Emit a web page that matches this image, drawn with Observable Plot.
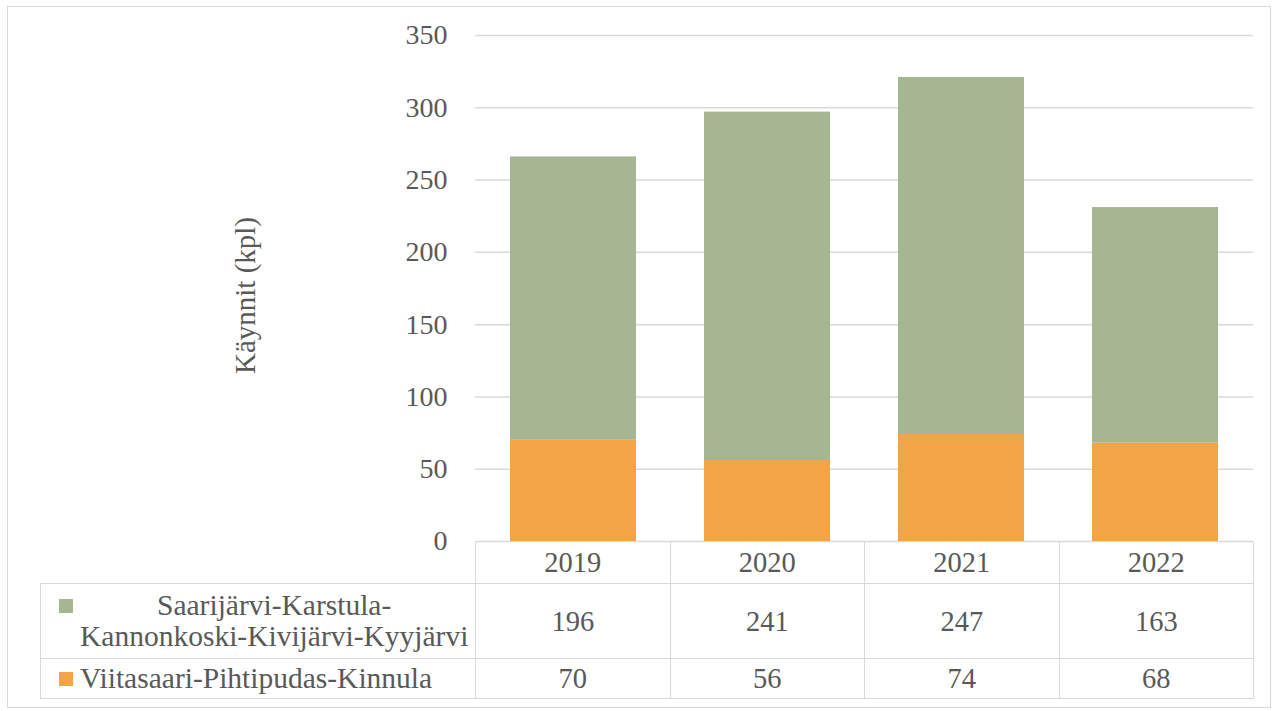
<!DOCTYPE html>
<html><head><meta charset="utf-8">
<script src="https://cdn.jsdelivr.net/npm/d3@7"></script>
<script src="https://cdn.jsdelivr.net/npm/@observablehq/plot@0.6"></script>
<style>
body{margin:0;background:#fff;font-family:"Liberation Serif","Times New Roman",serif;}
#frame{position:absolute;left:7px;top:6px;width:1264px;height:702px;border:1.5px solid #d9d9d9;box-sizing:border-box}
#chart{position:absolute;left:0;top:0}
#tbl{position:absolute;left:40px;top:541px;border-collapse:collapse;table-layout:fixed;font-size:28.5px;color:#595959;line-height:31px}
#tbl td{border:1.5px solid #d9d9d9;text-align:center;padding:0}
#tbl td.blank{border-top:none;border-left:none}
.lg{display:flex;align-items:flex-start;padding-left:18px;text-align:left}
.sq{width:14px;height:14px;flex:none;margin-right:7px}
.lt{flex:none;text-align:center;white-space:nowrap;font-size:29.5px}
</style>
</head><body>
<div id="frame"></div>
<div id="chart"></div>
<script>
const years = ["2019", "2020", "2021", "2022"];
const seriesNames = ["Saarijärvi-Karstula-Kannonkoski-Kivijärvi-Kyyjärvi", "Viitasaari-Pihtipudas-Kinnula"];
const seriesLines = [["Saarijärvi-Karstula-", "Kannonkoski-Kivijärvi-Kyyjärvi"], ["Viitasaari-Pihtipudas-Kinnula"]];
const saarijarvi = [196, 241, 247, 163];
const viitasaari = [70, 56, 74, 68];
const colors = ["#a6b592", "#f2a446"];
const yTicks = [0, 50, 100, 150, 200, 250, 300, 350];
const yLabel = "Käynnit (kpl)";

const data = [];
years.forEach((yr, i) => {
  data.push({year: yr, series: seriesNames[1], value: viitasaari[i], ord: 0});
  data.push({year: yr, series: seriesNames[0], value: saarijarvi[i], ord: 1});
});

const chart = Plot.plot({
  width: 1281,
  height: 570,
  marginLeft: 475,
  marginRight: 28,
  marginTop: 35,
  marginBottom: 29,
  style: {fontFamily: '"Liberation Serif","Times New Roman",serif', fontSize: "28px", color: "#595959", background: "transparent"},
  x: {domain: years, paddingInner: 0.35, paddingOuter: 0.175, axis: null},
  y: {domain: [0, 350], ticks: yTicks, tickSize: 0, tickPadding: 28, label: null},
  color: {domain: seriesNames, range: colors},
  marks: [
    Plot.gridY(yTicks, {stroke: "#d9d9d9", strokeOpacity: 1, strokeWidth: 1.5}),
    Plot.axisY(yTicks, {tickSize: 0, tickPadding: 28, fontSize: 28, fill: "#595959", label: null}),
    Plot.barY(data, Plot.stackY({x: "year", y: "value", fill: "series", order: "ord"})),
    Plot.text([yLabel], {frameAnchor: "left", textAnchor: "middle", dx: -230, dy: 7, rotate: -90, fontSize: 29, fill: "#595959"})
  ]
});
document.getElementById("chart").appendChild(chart);

// data table
const tbl = document.createElement("table");
tbl.id = "tbl";
const cg = document.createElement("colgroup");
[435, 194.5, 194.5, 194.5, 194.5].forEach(w => { const c = document.createElement("col"); c.style.width = w + "px"; cg.appendChild(c); });
tbl.appendChild(cg);
const hr = document.createElement("tr"); hr.style.height = "42px";
const b = document.createElement("td"); b.className = "blank"; hr.appendChild(b);
years.forEach(y => { const td = document.createElement("td"); td.textContent = y; hr.appendChild(td); });
tbl.appendChild(hr);
function row(lines, color, vals, h, sqTop) {
  const tr = document.createElement("tr"); tr.style.height = h + "px";
  const td = document.createElement("td");
  const wrap = document.createElement("div"); wrap.className = "lg";
  const sq = document.createElement("div"); sq.className = "sq"; sq.style.background = color; sq.style.marginTop = sqTop + "px";
  const lt = document.createElement("div"); lt.className = "lt"; lt.innerHTML = lines.join("<br>");
  wrap.appendChild(sq); wrap.appendChild(lt); td.appendChild(wrap); tr.appendChild(td);
  vals.forEach(v => { const c = document.createElement("td"); c.textContent = v; tr.appendChild(c); });
  tbl.appendChild(tr);
}
row(seriesLines[0], colors[0], saarijarvi, 75, 9);
row(seriesLines[1], colors[1], viitasaari, 40, 9);
document.body.appendChild(tbl);
</script>
</body></html>
